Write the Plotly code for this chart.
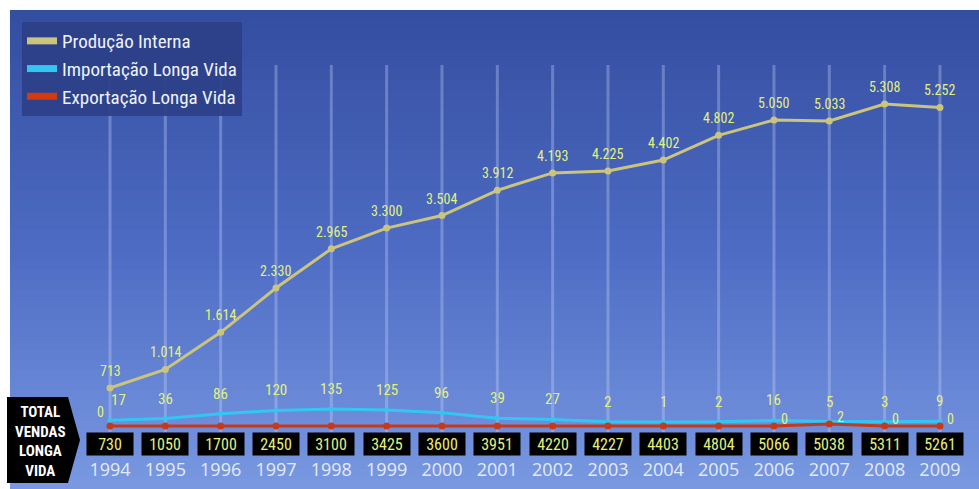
import plotly.graph_objects as go

years = list(range(1994, 2010))
producao = [713, 1014, 1614, 2330, 2965, 3300, 3504, 3912, 4193, 4225, 4402, 4802, 5050, 5033, 5308, 5252]
importacao = [17, 36, 86, 120, 135, 125, 96, 39, 27, 2, 1, 2, 16, 5, 3, 9]
exportacao = [0, 0, 0, 0, 0, 0, 0, 0, 0, 0, 0, 0, 0, 2, 0, 0]
export_labels = ["0", "", "", "", "", "", "", "", "", "", "", "", "0", "2", "0", "0"]
total_vendas = [730, 1050, 1700, 2450, 3100, 3425, 3600, 3951, 4220, 4227, 4403, 4804, 5066, 5038, 5311, 5261]

W, H = 979, 489
B = 32
PH = H - B  # plot height in px

NARROW = "Liberation Sans Narrow, Roboto Condensed, Arial Narrow, Roboto, sans-serif"
LABEL_COLOR = "#e2f27c"
C_PROD = "#cbc47c"
C_IMP = "#33c6f2"
C_EXP = "#c63a1c"


def py(p):
    """pixel-from-top -> paper y"""
    return (PH - p) / PH


def px(p):
    return p / W


# axis mapping
step = 55.33
x0 = 1994 - 110 / step
x1 = x0 + W / step
s_prod = 0.0618
yr_prod = [713 - (PH - 388) / s_prod, 713 - (PH - 388) / s_prod + PH / s_prod]
s_imp = 0.0963
yr_imp = [-(PH - 422) / s_imp, -(PH - 422) / s_imp + PH / s_imp]
s_exp = 1.0
yr_exp = [-(PH - 426) / s_exp, -(PH - 426) / s_exp + PH / s_exp]

fig = go.Figure()

fig.add_trace(go.Scatter(x=years, y=exportacao, yaxis="y3", mode="lines+markers",
                         line=dict(color=C_EXP, width=3), marker=dict(size=7, color=C_EXP),
                         showlegend=False, hoverinfo="skip"))
fig.add_trace(go.Scatter(x=years, y=importacao, yaxis="y2", mode="lines+markers",
                         line=dict(color=C_IMP, width=3), marker=dict(size=5, color=C_IMP),
                         showlegend=False, hoverinfo="skip"))
fig.add_trace(go.Scatter(x=years, y=producao, yaxis="y", mode="lines+markers",
                         line=dict(color=C_PROD, width=3), marker=dict(size=7, color=C_PROD),
                         showlegend=False, hoverinfo="skip"))

# legend entries
for name, col in [("Produção Interna", C_PROD), ("Importação Longa Vida", C_IMP),
                  ("Exportação Longa Vida", "#d23a10")]:
    fig.add_trace(go.Scatter(x=[None], y=[None], mode="lines", name=name,
                             line=dict(color=col, width=7)))

shapes = []
# gradient panel
N = 48
top_c = (52, 78, 160)
mid_c = (78, 108, 196)
bot_c = (122, 153, 226)
y_start, y_end = 10, H
for i in range(N):
    t = (i + 0.5) / N
    if t < 0.5:
        u = t / 0.5
        c = [int(top_c[k] + (mid_c[k] - top_c[k]) * u) for k in range(3)]
    else:
        u = (t - 0.5) / 0.5
        c = [int(mid_c[k] + (bot_c[k] - mid_c[k]) * u) for k in range(3)]
    a = y_start + (y_end - y_start) * i / N
    b = y_start + (y_end - y_start) * (i + 1) / N + 1.5
    shapes.append(dict(type="rect", xref="paper", yref="paper", x0=px(10), x1=1.0,
                       y0=py(b), y1=py(a), line=dict(width=0),
                       fillcolor=f"rgb({c[0]},{c[1]},{c[2]})", layer="below"))

# vertical guide lines
for yv in years:
    shapes.append(dict(type="line", xref="x", yref="paper", x0=yv, x1=yv,
                       y0=py(432), y1=py(65), line=dict(color="rgba(200,215,255,0.33)", width=3),
                       layer="below"))

# left black arrow label
path = (f"M {px(7)},{py(397)} L {px(68)},{py(397)} L {px(80)},{py(440)} "
        f"L {px(68)},{py(483)} L {px(7)},{py(483)} Z")
shapes.append(dict(type="path", xref="paper", yref="paper", path=path,
                   fillcolor="black", line=dict(width=0), layer="above"))

annotations = []
for yv, v in zip(years, producao):
    annotations.append(dict(x=yv, y=v, xref="x", yref="y", text=f"{v:,}".replace(",", "."),
                            showarrow=False, yshift=17,
                            font=dict(family=NARROW, size=14, color=LABEL_COLOR)))
for yv, v in zip(years, importacao):
    annotations.append(dict(x=yv, y=v, xref="x", yref="y2", text=str(v),
                            showarrow=False, yshift=20, xshift=8 if yv == 1994 else 0,
                            font=dict(family=NARROW, size=15, color=LABEL_COLOR)))
for yv, v, lab in zip(years, exportacao, export_labels):
    if lab:
        annotations.append(dict(x=yv, y=v, xref="x", yref="y3", text=lab,
                                showarrow=False, yshift=14 if yv == 1994 else 7,
                                xshift=-10 if yv == 1994 else 11,
                                font=dict(family=NARROW, size=14, color=LABEL_COLOR)))
for yv, v in zip(years, total_vendas):
    annotations.append(dict(x=yv, y=py(443.5), xref="x", yref="paper", text=str(v),
                            xanchor="center", yanchor="middle",
                            showarrow=False, bgcolor="black", width=44, height=20, borderpad=1,
                            font=dict(family=NARROW, size=16, color="#e4f07a")))
annotations.append(dict(x=px(40), y=py(441), xref="paper", yref="paper",
                        xanchor="center", yanchor="middle", align="center",
                        text="<b>TOTAL<br>VENDAS<br>LONGA<br>VIDA</b>", showarrow=False,
                        font=dict(family=NARROW, size=15, color="white")))

fig.update_layout(
    width=W, height=H,
    margin=dict(l=0, r=0, t=0, b=B),
    paper_bgcolor="white",
    plot_bgcolor="rgba(0,0,0,0)",
    shapes=shapes,
    annotations=annotations,
    xaxis=dict(range=[x0, x1], tickvals=years, ticktext=[str(y) for y in years],
               showgrid=False, zeroline=False, showline=False, ticks="",
               tickfont=dict(family="Open Sans, sans-serif", size=18, color="#e3ebfb"),
               fixedrange=True),
    yaxis=dict(range=yr_prod, visible=False, fixedrange=True),
    yaxis2=dict(range=yr_imp, visible=False, overlaying="y", fixedrange=True),
    yaxis3=dict(range=yr_exp, visible=False, overlaying="y", fixedrange=True),
    legend=dict(x=px(22), y=py(22), xanchor="left", yanchor="top",
                bgcolor="rgba(44,64,136,0.92)", borderwidth=0,
                font=dict(family=NARROW, size=19, color="#eef2ff"),
                itemwidth=30, tracegroupgap=0),
    showlegend=True,
)

fig.write_html("out.html")
